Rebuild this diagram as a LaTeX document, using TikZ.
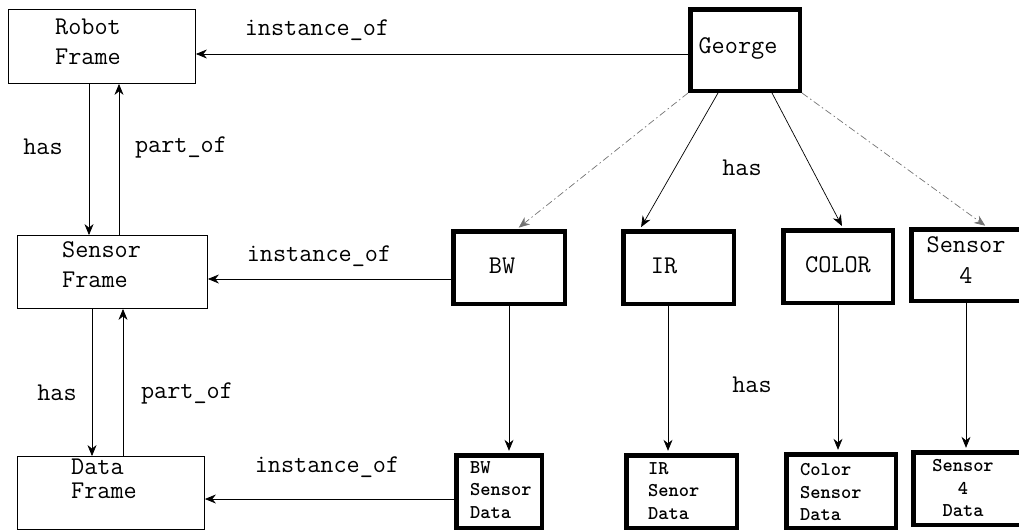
\documentclass[tikz,border=0pt]{standalone}
\usetikzlibrary{arrows.meta}
\begin{document}
\begin{tikzpicture}[x=1pt,y=-1pt,
  framebox/.style={draw, line width=0.8pt, inner sep=0pt},
  objbox/.style={draw, line width=4.5pt, inner sep=0pt},
  bigtxt/.style={font=\ttfamily\fontsize{25.5}{30}\selectfont, inner sep=0pt},
  frametxt/.style={bigtxt, align=left, anchor=west},
  datatxt/.style={font=\ttfamily\bfseries\fontsize{19.5}{22.5}\selectfont, inner sep=0pt, align=left, anchor=west},
  rel/.style={line width=0.7pt, -{Stealth[length=11pt,width=9pt]}},
  faint/.style={rel, black!55, dash pattern=on 7pt off 3pt on 1.5pt off 3pt},
  into/.style={shorten >=2.2pt}
]
\useasboundingbox (0,0) rectangle (1019,530);

% generic frames (left column)
\node[framebox, minimum width=187pt, minimum height=74pt] (robot) at (102,46.5) {};
\node[frametxt] (robotT) at (55,42) {Robot\\Frame};
\node[framebox, minimum width=190pt, minimum height=73pt] (sensorF) at (112.5,272) {};
\node[frametxt] (sensorT) at (62,265) {Sensor\\Frame};
\node[framebox, minimum width=187pt, minimum height=73pt] (dataF) at (111,493) {};
\node[frametxt, font=\ttfamily\fontsize{25.5}{24.5}\selectfont] (dataT) at (71,479) {Data\\Frame};

% the robot instance
\node[objbox, minimum width=109.5pt, minimum height=81.5pt] (george) at (745,50) {};
\node[bigtxt] (georgeT) at (738,48) {George};

% sensor instances
\node[objbox, minimum width=111.5pt, minimum height=72.5pt] (bw) at (509,267.5) {};
\node[bigtxt] (bwT) at (502,266) {BW};
\node[objbox, minimum width=110.5pt, minimum height=72.5pt] (ir) at (678.5,267.5) {};
\node[bigtxt] (irT) at (664,266) {IR};
\node[objbox, minimum width=109.5pt, minimum height=72.5pt] (color) at (838,266.5) {};
\node[bigtxt] (colorT) at (838,265) {COLOR};
\node[objbox, minimum width=109.5pt, minimum height=71.5pt] (sfour) at (966,265) {};
\node[bigtxt, align=center, font=\ttfamily\fontsize{25.5}{31}\selectfont] (sfourT) at (966,260.5) {Sensor\\4};

% sensor data instances
\node[objbox, minimum width=85.5pt, minimum height=72.5pt] (bwd) at (499,491.5) {};
\node[datatxt] (bwdT) at (470,490) {BW\\Sensor\\Data};
\node[objbox, minimum width=110.5pt, minimum height=72.5pt] (ird) at (681.5,491.5) {};
\node[datatxt] (irdT) at (648,491) {IR\\Senor\\Data};
\node[objbox, minimum width=109.5pt, minimum height=73.5pt] (cold) at (841,491) {};
\node[datatxt] (coldT) at (800,492) {Color\\Sensor\\Data};
\node[objbox, minimum width=109.5pt, minimum height=72.5pt] (sfourd) at (968,488.5) {};
\node[datatxt, align=center, anchor=center] (sfourdT) at (963,488) {Sensor\\4\\Data};

% instance_of links
\coordinate (g1) at ([yshift=-4pt]george.west);
\draw[rel] (g1) -- (g1 -| robot.east);
\coordinate (b1) at ([yshift=-11.5pt]bw.west);
\draw[rel] (b1) -- (b1 -| sensorF.east);
\coordinate (c1) at ([yshift=-7.5pt]bwd.west);
\draw[rel] (c1) -- (c1 -| dataF.east);
\node[bigtxt] (io1) at (317,30) {instance\_of};
\node[bigtxt] (io2) at (319,256) {instance\_of};
\node[bigtxt] (io3) at (327,467) {instance\_of};

% has / part_of between frames
\coordinate (h1) at ([xshift=-13pt]robot.south);
\coordinate (p1) at ([xshift=17pt]robot.south);
\draw[rel] (h1) -- (h1 |- sensorF.north);
\draw[rel] (p1 |- sensorF.north) -- (p1);
\coordinate (h2) at ([xshift=-20.5pt]sensorF.south);
\coordinate (p2) at ([xshift=10.5pt]sensorF.south);
\draw[rel] (h2) -- (h2 |- dataF.north);
\draw[rel] (p2 |- dataF.north) -- (p2);
\node[bigtxt] (has1) at (43,147) {has};
\node[bigtxt] (po1) at (181,147) {part\_of};
\node[bigtxt] (has2) at (57,393) {has};
\node[bigtxt] (po2) at (187,393) {part\_of};

% George has sensors
\draw[faint, into] (george.south west) -- ([xshift=8pt]bw.north);
\draw[rel, into] ([xshift=-27pt]george.south) -- ([xshift=-38.5pt]ir.north);
\draw[rel, into] ([xshift=27pt]george.south) -- ([xshift=5pt]color.north);
\draw[faint, into] (george.south east) -- ([xshift=21pt]sfour.north);
\node[bigtxt] (has3) at (742,168) {has};

% each sensor has its data
\draw[rel, into] (bw.south) -- (bw.south |- bwd.north);
\coordinate (i1) at ([xshift=-10.5pt]ir.south);
\draw[rel, into] (i1) -- (i1 |- ird.north);
\draw[rel, into] (color.south) -- (color.south |- cold.north);
\draw[rel, into] (sfour.south) -- (sfour.south |- sfourd.north);
\node[bigtxt] (has4) at (752,385) {has};
\end{tikzpicture}
\end{document}
